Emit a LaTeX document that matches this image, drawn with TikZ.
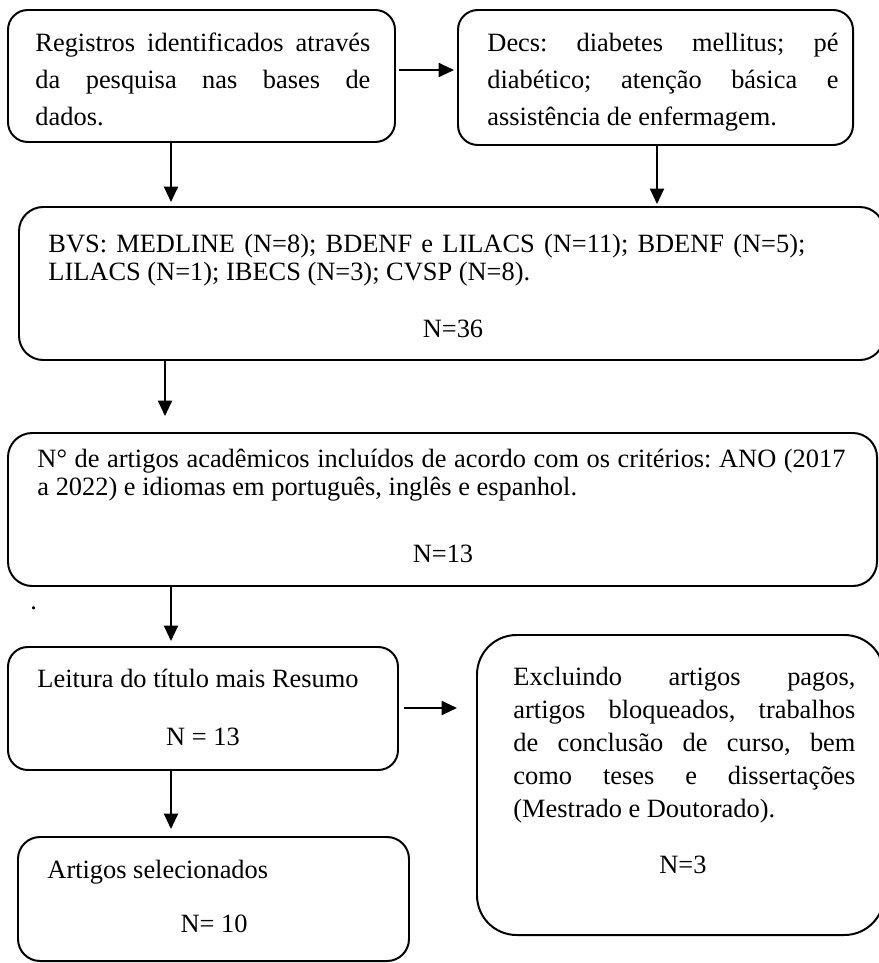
\documentclass[tikz,border=0pt]{standalone}
\usepackage{fontspec}
\setmainfont[Ligatures=NoCommon]{Liberation Serif}
\usetikzlibrary{arrows.meta,fit}
\frenchspacing
\newlength\upx
\setlength\upx{0.45455pt}
\newcommand\jl[1]{\makebox[\linewidth][s]{#1}\\}
\newcommand\para[3]{\parbox[t]{#1\upx}{\fontsize{12pt}{#2}\selectfont\frenchspacing #3}}
\tikzset{
  rbox/.style={draw, line width=0.9pt, rounded corners=9pt, inner sep=0pt},
  txt/.style={inner sep=0pt, anchor=base west, font=\fontsize{12pt}{14pt}\selectfont},
  ctxt/.style={inner sep=0pt, anchor=base, font=\fontsize{12pt}{14pt}\selectfont},
  arr/.style={line width=0.85pt, -{Triangle[length=7pt,width=6.4pt]}}
}
\begin{document}
\begin{tikzpicture}[x=0.45455pt,y=-0.45455pt]
\useasboundingbox (0,0) rectangle (878,963);
% boxes
\node[rbox, fit={(8,10)(395,142)}] (reg) {};
\node[rbox, fit={(458,10)(853,145)}] (decs) {};
\node[rbox, rounded corners=11pt, fit={(19,207)(884,360)}] (bvs) {};
\node[rbox, rounded corners=11pt, fit={(8,433)(877,586)}] (crit) {};
\node[rbox, fit={(8,647)(398,770)}] (leit) {};
\node[rbox, rounded corners=18pt, fit={(477,635)(884,935)}] (excl) {};
\node[rbox, rounded corners=10pt, fit={(18,837)(409,961)}] (sel) {};
% texts
\node[txt] (regt) at (35,52) {\para{335}{16.8pt}{%
\jl{Registros identificados através}
\jl{da pesquisa nas bases de}
dados.}};
\node[txt] (decst) at (487,52) {\para{351}{16.6pt}{%
\jl{Decs: diabetes mellitus; pé}
\jl{diabético; atenção básica e}
assistência de enfermagem.}};
\node[txt] (bvst) at (48,252) {\para{757}{12.8pt}{%
\jl{BVS: MEDLINE (N=8); BDENF e LILACS (N=11); BDENF (N=5);}
LILACS (N=1); IBECS (N=3); CVSP (N=8).}};
\node[ctxt] (bvsn) at (453,337) {N=36};
\node[txt] (critt) at (37,467) {\para{808}{12.8pt}{%
\jl{N° de artigos acadêmicos incluídos de acordo com os critérios: ANO (2017}
a 2022) e idiomas em português, inglês e espanhol.}};
\node[ctxt] (critn) at (443,562) {N=13};
\node[txt] (dot) at (30,609) {.};
\node[txt] (leitt) at (37,687) {Leitura do título mais Resumo};
\node[ctxt] (leitn) at (203,745) {N = 13};
\node[txt] (exclt) at (513,685) {\para{342}{15pt}{%
\jl{Excluindo artigos pagos,}
\jl{artigos bloqueados, trabalhos}
\jl{de conclusão de curso, bem}
\jl{como teses e dissertações}
(Mestrado e Doutorado).}};
\node[ctxt] (excln) at (683,873) {N=3};
\node[txt] (selt) at (47,878) {Artigos selecionados};
\node[ctxt] (seln) at (214,932) {N= 10};
% arrow guide coordinates
\coordinate (xa) at (171,0);
\coordinate (xb) at (657,0);
\coordinate (xc) at (165,0);
\coordinate (ya) at (0,70);
\coordinate (yb) at (0,708);
% connectors
\draw[arr, shorten <=3\upx, shorten >=3\upx] (reg.east |- ya) -- (decs.west |- ya);
\draw[arr, shorten >=4\upx] (reg.south -| xa) -- (bvs.north -| xa);
\draw[arr, shorten >=2\upx] (decs.south -| xb) -- (bvs.north -| xb);
\draw[arr, shorten >=16\upx] (bvs.south -| xc) -- (crit.north -| xc);
\draw[arr, shorten >=5\upx] (crit.south -| xa) -- (leit.north -| xa);
\draw[arr, shorten <=5\upx, shorten >=19\upx] (leit.east |- yb) -- (excl.west |- yb);
\draw[arr, shorten >=7\upx] (leit.south -| xa) -- (sel.north -| xa);
\end{tikzpicture}
\end{document}
